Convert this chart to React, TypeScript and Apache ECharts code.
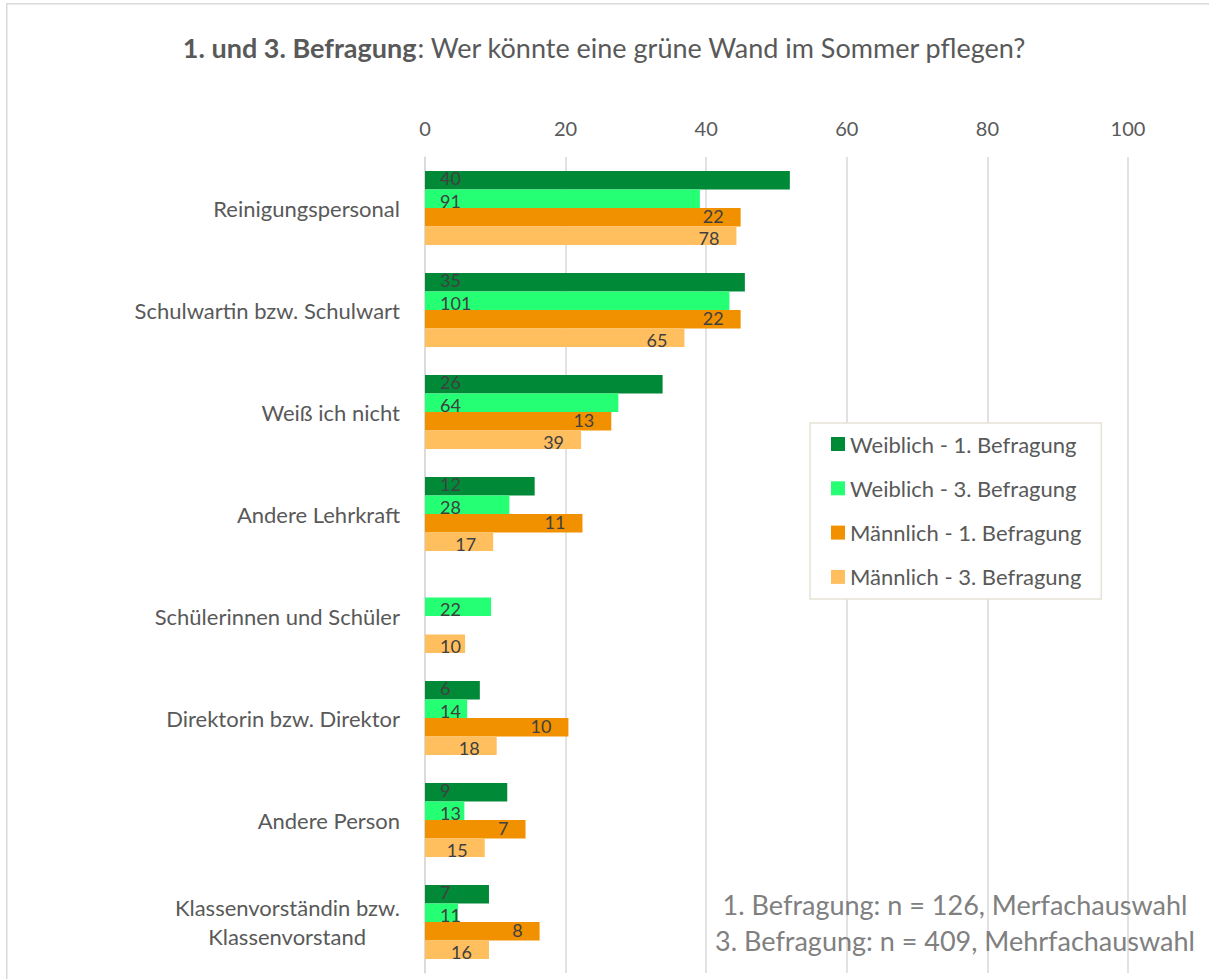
import React, { useEffect, useRef } from "react";
import * as echarts from "echarts";

const categories = [
  "Reinigungspersonal",
  "Schulwartin bzw. Schulwart",
  "Weiß ich nicht",
  "Andere Lehrkraft",
  "Schülerinnen und Schüler",
  "Direktorin bzw. Direktor",
  "Andere Person",
  "Klassenvorständin bzw. Klassenvorstand",
];

const seriesNames = [
  "Weiblich - 1. Befragung",
  "Weiblich - 3. Befragung",
  "Männlich - 1. Befragung",
  "Männlich - 3. Befragung",
];

// bar lengths (percent)
const w1Pct = [51.9, 45.5, 33.8, 15.6, null, 7.8, 11.7, 9.1];
const w3Pct = [39.1, 43.3, 27.5, 12.0, 9.4, 6.0, 5.6, 4.7];
const m1Pct = [44.9, 44.9, 26.5, 22.4, null, 20.4, 14.3, 16.3];
const m3Pct = [44.3, 36.9, 22.2, 9.7, 5.7, 10.2, 8.5, 9.1];

// counts shown as data labels
const w1Count = [40, 35, 26, 12, null, 6, 9, 7];
const w3Count = [91, 101, 64, 28, 22, 14, 13, 11];
const m1Count = [22, 22, 13, 11, null, 10, 7, 8];
const m3Count = [78, 65, 39, 17, 10, 18, 15, 16];

const xTicks = [0, 20, 40, 60, 80, 100];

const titleBold = "1. und 3. Befragung";
const titleRest = ": Wer könnte eine grüne Wand im Sommer pflegen?";
const noteLines = [
  "1. Befragung: n = 126, Merfachauswahl",
  "3. Befragung: n = 409, Mehrfachauswahl",
];

const colors = ["#008A38", "#24FF74", "#F29100", "#FFBF5F"];
const FONT = "Lato";

export default function App() {
  const ref = useRef<HTMLDivElement>(null);

  useEffect(() => {
    if (!ref.current) return;
    const chart = echarts.init(ref.current, undefined, { renderer: "svg" });

    const pcts = [w1Pct, w3Pct, m1Pct, m3Pct];
    const counts = [w1Count, w3Count, m1Count, m3Count];
    const labelOffsets = [[0, -2], [0, 2], [0, -1], [0, 2]];

    const series = pcts.map((arr, si) => ({
      name: seriesNames[si],
      type: "bar",
      barGap: "0%",
      barCategoryGap: "27.5%",
      itemStyle: { color: colors[si] },
      data: arr.map((v, i) => {
        const d: any = { value: v };
        // short bar: label placed at the base
        if (si === 3 && i === 4) {
          d.label = { position: "insideLeft", distance: 15 };
        }
        return d;
      }),
      label: {
        show: true,
        position: si < 2 ? "insideLeft" : "insideRight",
        distance: si < 2 ? 15 : 17,
        offset: labelOffsets[si],
        color: "#404040",
        fontFamily: FONT,
        fontSize: 18,
        lineHeight: 16,
        formatter: (p: any) => {
          const c = counts[si][p.dataIndex];
          return c == null ? "" : String(c);
        },
      },
    }));

    chart.setOption({
      animation: false,
      color: colors,
      title: {
        text: `{b|${titleBold}}{n|${titleRest}}`,
        left: "center",
        top: 29,
        textStyle: {
          fontWeight: "normal",
          rich: {
            b: { fontFamily: FONT, fontSize: 27, fontWeight: "bold", color: "#595959" },
            n: { fontFamily: FONT, fontSize: 27, fontWeight: "normal", color: "#595959" },
          },
        },
      },
      legend: {
        orient: "vertical",
        left: 810,
        top: 423,
        backgroundColor: "#ffffff",
        borderColor: "#E6E2D8",
        borderWidth: 1.5,
        borderRadius: 0,
        padding: [9, 20, 10, 21],
        itemWidth: 14,
        itemHeight: 14,
        itemGap: 20.3,
        icon: "rect",
        textStyle: {
          fontFamily: FONT,
          fontSize: 22,
          color: "#595959",
          lineHeight: 24,
        },
        data: seriesNames,
      },
      grid: { left: 425, right: 81, top: 157, bottom: 6, containLabel: false },
      xAxis: {
        type: "value",
        position: "top",
        min: xTicks[0],
        max: xTicks[xTicks.length - 1],
        interval: xTicks[1] - xTicks[0],
        axisLine: { show: false },
        axisTick: { show: false },
        axisLabel: {
          color: "#595959",
          fontFamily: FONT,
          fontSize: 20,
          margin: 19,
        },
        splitLine: { lineStyle: { color: "#D9D9D9", width: 1.5 } },
      },
      yAxis: {
        type: "category",
        inverse: true,
        data: categories,
        axisLine: { show: true, lineStyle: { color: "#D9D9D9", width: 1.5 } },
        axisTick: { show: false },
        axisLabel: {
          margin: 25,
          color: "#595959",
          fontFamily: FONT,
          fontSize: 22,
          lineHeight: 29,
          formatter: (v: string) => {
            if (v === "Klassenvorständin bzw. Klassenvorstand") {
              return "{a|Klassenvorständin bzw.}\n{b|Klassenvorstand}";
            }
            return v;
          },
          rich: {
            a: { fontFamily: FONT, fontSize: 22, color: "#595959", lineHeight: 29 },
            b: {
              fontFamily: FONT,
              fontSize: 22,
              color: "#595959",
              lineHeight: 29,
              padding: [0, 34, 0, 0],
            },
          },
        },
      },
      graphic: [
        {
          type: "rect",
          shape: { x: 6.75, y: 3.75, width: 1300, height: 1100 },
          style: { fill: "none", stroke: "#D9D9D9", lineWidth: 1.5 },
          silent: true,
          z: -1,
        },
        {
          type: "text",
          x: 955,
          y: 904,
          style: {
            text: noteLines[0],
            fill: "#808080",
            fontFamily: FONT,
            fontSize: 27,
            textAlign: "center",
            textVerticalAlign: "middle",
          },
          z: 10,
        },
        {
          type: "text",
          x: 955,
          y: 940,
          style: {
            text: noteLines[1],
            fill: "#808080",
            fontFamily: FONT,
            fontSize: 27,
            textAlign: "center",
            textVerticalAlign: "middle",
          },
          z: 10,
        },
      ],
      series,
    });

    return () => chart.dispose();
  }, []);

  return (
    <div
      ref={ref}
      style={{ position: "absolute", left: 0, top: 0, width: 1209, height: 979 }}
    />
  );
}
